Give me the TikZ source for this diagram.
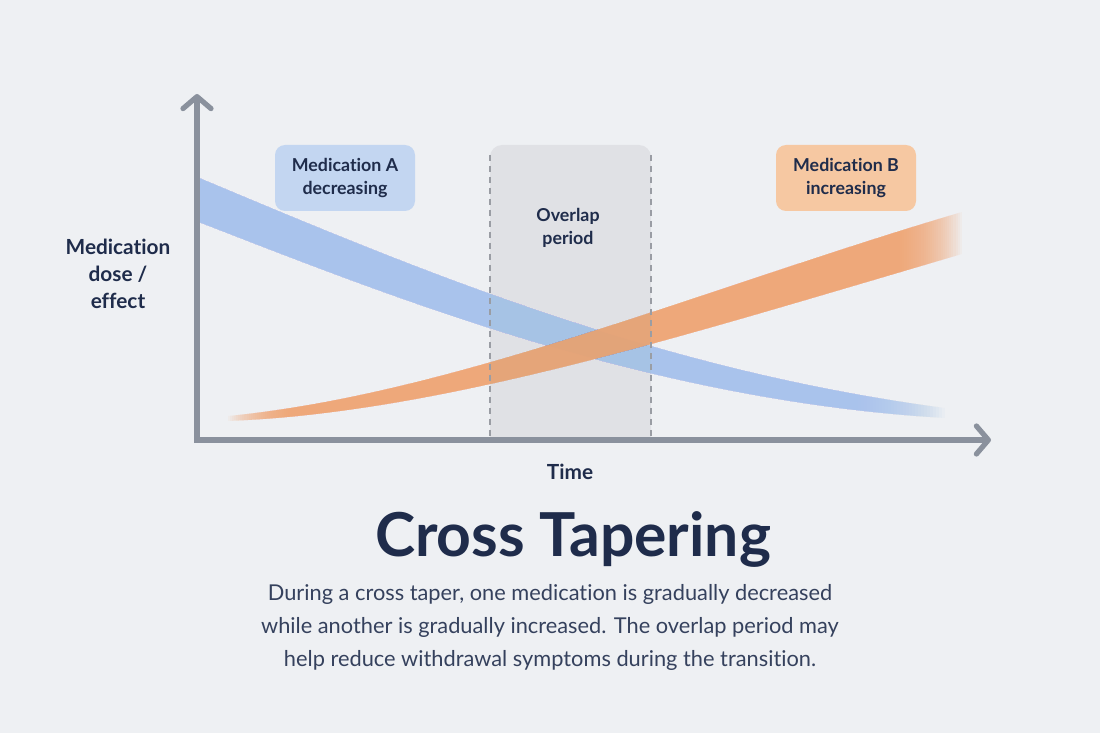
\documentclass[tikz,border=0pt]{standalone}
\usepackage{fontspec}
\setmainfont{Lato}[Ligatures=NoCommon]
\usetikzlibrary{arrows.meta}
\definecolor{bgcol}{HTML}{EEF0F3}
\definecolor{axiscol}{HTML}{8A919D}
\definecolor{inkcol}{HTML}{1F2C4B}
\definecolor{bluecol}{HTML}{A6C3EC}
\definecolor{orangecol}{HTML}{F4A46E}
\definecolor{blueboxcol}{HTML}{C3D6F1}
\definecolor{orangeboxcol}{HTML}{F6C8A2}
\definecolor{overlapcol}{HTML}{E0E1E5}
\definecolor{dashcol}{HTML}{9A9DA4}
\begin{document}
\begin{tikzpicture}[x=0.5pt, y=-0.5pt,
    label/.style={font=\bfseries\fontsize{8.9}{11.5}\selectfont, text=inkcol, align=center},
    tag/.style={label, rounded corners=5pt, minimum width=70pt, minimum height=33pt}]
  \fill[bgcol] (0,0) rectangle (1100,733);
  \useasboundingbox (0,0) rectangle (1100,733);
  % overlap period
  \fill[overlapcol] (490,437) [rounded corners=6pt] -- (490,145) -- (651,145) [sharp corners] -- (651,437) -- cycle;
  \node[label] (overlap) at (568,228) {Overlap\\period};
  % blue band, fading out to the right (stacked layers)
  \begin{scope}
    \clip (199,178) .. controls (400,262) and (650,370) .. (945,408)
      -- (945,418) .. controls (650,400) and (400,300) .. (199,222) -- cycle;
    \foreach \k in {1,...,30}
      \fill[bluecol, fill opacity=0.0683] (150,100) rectangle ({855+\k*3},450);
  \end{scope}
  % orange band, fading out at both ends
  \begin{scope}
    \clip (228,416) .. controls (450,395) and (700,290) .. (962,212)
      -- (962,254) .. controls (700,330) and (450,412) .. (228,421) -- cycle;
    \foreach \k in {1,...,30}
      \fill[orangecol, fill opacity=0.0613] ({290-\k*2.07},150) rectangle ({898+\k*2.13},450);
  \end{scope}
  \draw[dashcol, line width=0.6pt, dash pattern=on 3pt off 2.5pt] (490,155) -- (490,437) (651,155) -- (651,437);
  % axes
  \coordinate (origin) at (197,440);
  \coordinate (ytip) at (197,94);
  \coordinate (xtip) at (991,440);
  \draw[axiscol, line width=2.6pt, {Straight Barb[length=6pt,width=14pt,round]}-{Straight Barb[length=6pt,width=14pt,round]}]
    (ytip) -- (origin) -- (xtip);
  \node[label, font=\bfseries\fontsize{10.4}{13.5}\selectfont] (ylab) at (118,274) {Medication\\dose /\\effect};
  \node[label, font=\bfseries\fontsize{10.4}{12}\selectfont] (xlab) at (570,472) {Time};
  % tags
  \node[tag, fill=blueboxcol] (taga) at (345,178) {Medication A\\decreasing};
  \node[tag, fill=orangeboxcol] (tagb) at (846,178) {Medication B\\increasing};
  % title and text
  \node[font=\bfseries\fontsize{30.3}{34}\selectfont, text=inkcol] (title) at (573,540) {Cross Tapering};
  \node[font=\fontsize{10.9}{16.5}\selectfont, text=inkcol!90, align=center] (text) at (550,627)
    {During a cross taper, one medication is gradually decreased\\
     while another is gradually increased. The overlap period may\\
     help reduce withdrawal symptoms during the transition.};
\end{tikzpicture}
\end{document}
